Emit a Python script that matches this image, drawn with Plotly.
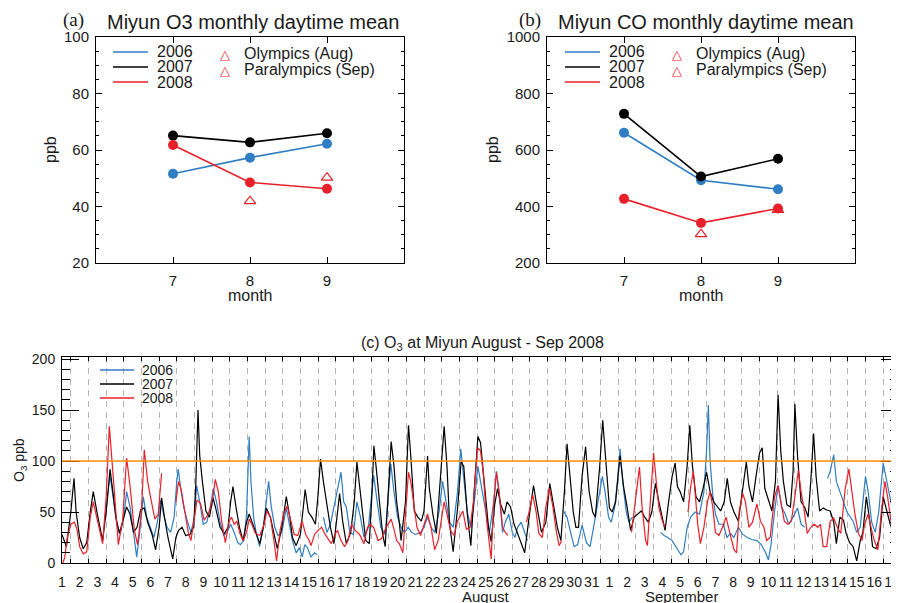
import plotly.graph_objects as go

# ---------------- data ----------------
MONTHS = [7, 8, 9]
O3_2006 = [51.6, 57.3, 62.2]
O3_2007 = [65.1, 62.7, 65.9]
O3_2008 = [61.8, 48.5, 46.3]
O3_OLYMPICS = [41.9]       # Aug 2008 (Olympics)
O3_PARALYMPICS = [50.2]    # Sep 2008 (Paralympics)

CO_2006 = [661, 493, 461]
CO_2007 = [728, 506, 569]
CO_2008 = [427, 342, 393]
CO_OLYMPICS = [302]
CO_PARALYMPICS = [388]

GAMES_AUG = [8]
GAMES_SEP = [9]

YEARS = ["2006", "2007", "2008"]
GAMES_LABELS = ["Olympics (Aug)", "Paralympics (Sep)"]

# day-of-period (0 = Aug 1 00:00) and O3 ppb, None = missing
O3_HOURLY_2006 = [
    (2.45, 45), (2.60, 70), (2.72, 86), (2.90, 64), (3.10, 38), (3.30, 29), (3.50, 45), (3.66, 70),
    (3.85, 55), (4.05, 30), (4.23, 6), (4.40, 30), (4.60, 65), (4.80, 45), (5.00, 35), (5.20, 25),
    (5.40, 40), (5.58, 62), (5.75, 48), (5.95, 35), (6.15, 30), (6.35, 45), (6.50, 80), (6.58, 92),
    (6.75, 70), (6.90, 54), (7.10, 41), (7.30, 30), (7.50, 45), (7.62, 76), (7.80, 60), (8.00, 38),
    (8.20, 40), (8.40, 55), (8.57, 73), (8.75, 60), (8.95, 40), (9.15, 27), (9.35, 30), (9.55, 38),
    (9.75, 30), (9.95, 20), (10.10, 18), (10.30, 22), (10.45, 48), (10.60, 124), (10.70, 80),
    (10.85, 45), (11.00, 29), (11.19, 16), (11.40, 35), (11.55, 60), (11.70, 80), (11.85, 55),
    (12.05, 35), (12.23, 27), (12.45, 30), (12.70, 54), (12.85, 40), (13.05, 22), (13.26, 10),
    (13.45, 15), (13.60, 6), (13.75, 18), (13.90, 15), (14.10, 6), (14.30, 10), (14.45, 8),
    (14.55, None), (14.80, 45), (15.00, 30), (15.20, 38), (15.45, 60), (15.65, 75), (15.80, 89),
    (15.95, 60), (16.10, 55), (16.30, 30), (16.50, 28), (16.70, 60), (16.90, 45), (17.10, 25),
    (17.35, 35), (17.55, 70), (17.65, 86), (17.85, 60), (18.05, 35), (18.30, 28), (18.50, 70),
    (18.62, 97), (18.80, 70), (19.00, 45), (19.20, 35), (19.40, 30), (19.60, 35), (19.80, 30),
    (20.00, 28), (20.30, 30), (20.50, 35), (20.70, 45), (20.90, 35), (21.10, 30), (21.35, 50),
    (21.55, 80), (21.75, 60), (21.95, 40), (22.15, 35), (22.40, 70), (22.58, 112), (22.75, 80),
    (22.95, 50), (23.15, 35), (23.35, 60), (23.55, 95), (23.70, 80), (23.90, 60), (24.05, 45),
    (24.20, 30), (24.45, 60), (24.60, 90), (24.75, 70), (24.95, 30), (25.10, 40), (25.30, 48),
    (25.50, 30), (25.65, 25), (25.80, 35), (26.00, 40), (26.20, 30), (26.35, 22), (26.45, None),
    (28.40, 51), (28.60, 45), (28.80, 30), (29.00, 16), (29.20, 18), (29.45, 37), (29.70, 20),
    (29.90, 16), (30.10, 35), (30.35, 60), (30.60, 85), (30.75, 70), (30.95, 45), (31.10, 40),
    (31.30, 55), (31.45, 80), (31.60, 112), (31.75, 80), (31.95, 50), (32.10, 40), (32.30, 45),
    (32.40, None), (33.90, 30), (34.10, 27), (34.30, 25), (34.55, 22), (34.80, 15), (35.05, 8),
    (35.20, 11), (35.40, 35), (35.60, 45), (35.85, 50), (36.10, 48), (36.35, 70), (36.50, 110),
    (36.60, 155), (36.70, 100), (36.85, 67), (37.00, 48), (37.20, 38), (37.45, 38), (37.65, 25),
    (37.85, 29), (38.05, 25), (38.30, 35), (38.55, 28), (38.80, 25), (39.05, 23), (39.35, 22),
    (39.60, 18), (39.85, 10), (40.00, 3), (40.15, 18), (40.35, 51), (40.55, 76), (40.75, 55),
    (40.95, 48), (41.15, 38), (41.40, 45), (41.65, 54), (41.85, 38), (42.05, 35), (42.15, None),
    (43.35, 83), (43.50, 90), (43.70, 106), (43.85, 80), (44.05, 70), (44.25, 60), (44.45, 50),
    (44.80, 41), (45.00, 30), (45.20, 35), (45.35, 60), (45.50, 85), (45.65, 70), (45.85, 40),
    (46.05, 30), (46.25, 50), (46.50, 98), (46.65, 85), (46.85, 65), (47.05, 50), (47.34, 40),
]

O3_HOURLY_2007 = [
    (0.00, 28), (0.25, 16), (0.50, 50), (0.68, 83), (0.80, 50), (1.00, 25), (1.20, 14), (1.40, 20),
    (1.60, 50), (1.77, 70), (2.00, 48), (2.15, 35), (2.30, 22), (2.50, 50), (2.72, 92), (2.90, 67),
    (3.05, 45), (3.25, 29), (3.45, 41), (3.66, 55), (3.85, 48), (4.05, 30), (4.25, 35), (4.45, 52),
    (4.65, 54), (4.85, 40), (5.10, 28), (5.30, 13), (5.50, 35), (5.64, 64), (5.80, 45), (6.00, 25),
    (6.27, 4), (6.45, 25), (6.60, 32), (6.80, 35), (7.00, 27), (7.25, 28), (7.45, 35), (7.57, 73),
    (7.70, 150), (7.80, 105), (7.95, 80), (8.15, 51), (8.35, 45), (8.55, 64), (8.70, 54),
    (8.95, 35), (9.20, 29), (9.40, 35), (9.55, 60), (9.68, 75), (9.85, 55), (10.05, 35),
    (10.25, 22), (10.45, 40), (10.60, 48), (10.80, 38), (11.00, 29), (11.20, 19), (11.40, 35),
    (11.57, 54), (11.80, 45), (12.00, 30), (12.19, 14), (12.45, 35), (12.70, 65), (12.90, 45),
    (13.05, 25), (13.26, 17), (13.50, 28), (13.77, 72), (13.95, 50), (14.15, 45), (14.35, 38),
    (14.50, 67), (14.64, 102), (14.80, 80), (15.00, 55), (15.20, 35), (15.40, 19), (15.55, 45),
    (15.72, 68), (15.90, 40), (16.10, 19), (16.35, 30), (16.55, 60), (16.70, 99), (16.85, 73),
    (17.05, 45), (17.20, 22), (17.40, 19), (17.55, 67), (17.66, 115), (17.80, 92), (18.00, 54),
    (18.15, 29), (18.30, 16), (18.50, 73), (18.64, 119), (18.80, 95), (18.95, 60), (19.10, 40),
    (19.20, 22), (19.45, 60), (19.62, 135), (19.75, 105), (19.95, 51), (20.15, 45), (20.35, 41),
    (20.50, 51), (20.70, 105), (20.80, 73), (21.00, 48), (21.20, 29), (21.40, 80), (21.64, 134),
    (21.80, 95), (21.95, 38), (22.15, 11), (22.40, 54), (22.60, 99), (22.75, 95), (22.95, 48),
    (23.15, 17), (23.35, 73), (23.55, 124), (23.70, 118), (23.85, 89), (24.00, 64), (24.15, 35),
    (24.30, 21), (24.50, 57), (24.66, 73), (24.85, 57), (25.05, 48), (25.20, 60), (25.40, 55),
    (25.60, 38), (25.80, 29), (26.00, 19), (26.20, 10), (26.45, 45), (26.70, 76), (26.90, 55),
    (27.15, 30), (27.40, 40), (27.62, 78), (27.85, 55), (28.05, 35), (28.25, 22), (28.45, 70),
    (28.60, 117), (28.75, 90), (28.95, 50), (29.10, 35), (29.25, 35), (29.45, 85), (29.65, 114),
    (29.85, 70), (30.05, 50), (30.20, 45), (30.45, 95), (30.62, 140), (30.80, 95), (31.00, 54),
    (31.15, 50), (31.35, 60), (31.60, 105), (31.80, 75), (32.00, 55), (32.20, 32), (32.40, 45),
    (32.60, 48), (32.80, 51), (33.00, 45), (33.20, 40), (33.40, 50), (33.60, 78), (33.80, 60),
    (34.00, 45), (34.15, 32), (34.35, 60), (34.55, 85), (34.72, 98), (34.85, 75), (35.00, 70),
    (35.20, 60), (35.40, 95), (35.55, 135), (35.70, 95), (35.90, 65), (36.10, 60), (36.30, 73),
    (36.50, 89), (36.70, 70), (36.90, 60), (37.10, 55), (37.30, 51), (37.50, 60), (37.67, 83),
    (37.85, 60), (38.05, 50), (38.30, 41), (38.50, 67), (38.75, 99), (38.90, 75), (39.10, 60),
    (39.30, 85), (39.50, 108), (39.65, 113), (39.80, 73), (40.00, 62), (40.20, 51), (40.40, 80),
    (40.55, 165), (40.70, 110), (40.85, 80), (41.05, 57), (41.25, 55), (41.40, 90), (41.50, 156),
    (41.65, 105), (41.85, 60), (42.05, 55), (42.25, 45), (42.40, 80), (42.56, 127), (42.70, 85),
    (42.90, 51), (43.10, 54), (43.30, 52), (43.50, 51), (43.70, 40), (43.85, 19), (44.05, 45),
    (44.25, 42), (44.40, 29), (44.60, 20), (44.80, 16), (45.00, 2), (45.20, 22), (45.35, 30),
    (45.55, 65), (45.75, 40), (45.90, 16), (46.10, 14), (46.30, 25), (46.50, 65), (46.70, 50),
    (46.90, 38), (47.10, 29), (47.34, 45),
]

O3_HOURLY_2008 = [
    (0.04, 0), (0.15, 5), (0.30, 25), (0.50, 38), (0.70, 40), (0.85, 33), (1.00, 16), (1.20, 9),
    (1.40, 11), (1.60, 45), (1.77, 60), (2.00, 43), (2.30, 19), (2.50, 64), (2.68, 134),
    (2.85, 96), (3.00, 60), (3.19, 18), (3.43, 41), (3.66, 103), (3.85, 76), (4.10, 32),
    (4.28, 18), (4.50, 51), (4.66, 111), (4.85, 80), (5.02, 64), (5.26, 43), (5.45, 48),
    (5.64, 88), (5.70, None), (6.45, 60), (6.60, 80), (6.75, 72), (6.95, 50), (7.15, 30),
    (7.30, 22), (7.50, 45), (7.65, 62), (7.85, 58), (8.05, 42), (8.30, 48), (8.55, 65), (8.68, 82),
    (8.85, 70), (9.05, 40), (9.25, 20), (9.45, 40), (9.60, 45), (9.75, 38), (9.90, 41), (10.05, 30),
    (10.25, 22), (10.45, 30), (10.60, 43), (10.75, 38), (10.95, 29), (11.20, 27), (11.45, 38),
    (11.60, 51), (11.80, 45), (12.00, 22), (12.15, 2), (12.35, 32), (12.55, 48), (12.75, 56),
    (12.95, 41), (13.15, 28), (13.35, 27), (13.60, 41), (13.80, 28), (14.00, 22), (14.10, 17),
    (14.30, 28), (14.50, 32), (14.70, 35), (14.90, 28), (15.05, 24), (15.25, 19), (15.45, 28),
    (15.60, 32), (15.80, 22), (16.00, 16), (16.20, 22), (16.40, 38), (16.60, 32), (16.85, 28),
    (17.10, 19), (17.30, 35), (17.45, 38), (17.65, 35), (17.90, 22), (18.10, 24), (18.35, 35),
    (18.64, 43), (18.80, 33), (18.95, 22), (19.10, 19), (19.30, 10), (19.45, 48), (19.62, 89),
    (19.75, 80), (19.95, 54), (20.10, 35), (20.30, 27), (20.50, 38), (20.70, 48), (20.90, 35),
    (21.10, 13), (21.30, 22), (21.45, 41), (21.64, 60), (21.80, 48), (22.00, 32), (22.20, 27),
    (22.40, 41), (22.70, 51), (22.90, 33), (23.10, 35), (23.30, 60), (23.53, 113), (23.70, 110),
    (23.85, 89), (24.05, 41), (24.30, 4), (24.45, 60), (24.60, 89), (24.75, 70), (24.95, 35),
    (25.10, 30), (25.25, 27), (25.35, None), (26.30, 40), (26.45, 50), (26.65, 67), (26.85, 50),
    (27.00, 29), (27.20, 25), (27.40, 55), (27.60, 73), (27.80, 55), (28.00, 30), (28.15, 17),
    (28.30, 22), (28.40, None), (32.25, 30), (32.45, 60), (32.70, 94), (32.85, 54), (33.05, 22),
    (33.15, 17), (33.30, 60), (33.50, 108), (33.65, 80), (33.80, 54), (34.00, 41), (34.15, 35),
    (34.25, None), (35.45, 50), (35.60, 75), (35.75, 90), (35.90, 60), (36.00, 38), (36.15, 19),
    (36.35, 35), (36.55, 60), (36.70, 70), (36.85, 55), (37.00, 30), (37.20, 27), (37.40, 35),
    (37.60, 45), (37.80, 30), (37.95, 19), (38.05, 13), (38.20, 10), (38.35, 51), (38.55, 68),
    (38.70, 60), (38.90, 35), (39.10, 40), (39.35, 58), (39.55, 41), (39.75, 35), (39.90, 22),
    (40.10, 25), (40.35, 65), (40.55, 76), (40.70, 60), (40.90, 41), (41.10, 38), (41.30, 41),
    (41.50, 65), (41.70, 91), (41.85, 70), (42.00, 55), (42.20, 29), (42.40, 35), (42.60, 38),
    (42.80, 35), (42.95, 38), (43.10, 16), (43.30, 16), (43.50, 41), (43.70, 44), (43.90, 35),
    (44.10, 29), (44.35, 73), (44.56, 92), (44.70, 75), (44.90, 48), (45.10, 29), (45.30, 22),
    (45.45, 38), (45.65, 48), (45.85, 32), (46.00, 22), (46.20, 13), (46.40, 51), (46.60, 80),
    (46.75, 65), (46.95, 40), (47.10, 19), (47.34, 64),
]

O3_STANDARD = 100  # ppb, horizontal reference line
DAY_LABELS = [str(d) for d in range(1, 32)] + [str(d) for d in range(1, 18)]
MONTH_LABELS = ["August", "September"]
MONTH_LABEL_DAYS = [24.0, 35.1]

# ---------------- style ----------------
# the page body has an 8px margin, so the figure is laid out in page pixels shifted by 8
OFF = 8
W, H = 899 - OFF, 603 - OFF
BLUE = "#2f7dc3"
BLACK = "#000000"
RED = "#e8202a"
ORANGE = "#ff8c00"
FONT = "Liberation Sans, Arial, sans-serif"
SERIF = "Liberation Serif, Times New Roman, serif"
TXT = "#1a1a1a"
COLORS = [BLUE, BLACK, RED]
X3_MAX = 47.34


def px(x):
    return (x - OFF) / W


def py(y):
    return 1 - (y - OFF) / H


fig = go.Figure()

# panel a and b
for xa, ya, series, aug, sep in [
    ("x", "y", [O3_2006, O3_2007, O3_2008], O3_OLYMPICS, O3_PARALYMPICS),
    ("x2", "y2", [CO_2006, CO_2007, CO_2008], CO_OLYMPICS, CO_PARALYMPICS),
]:
    for vals, col in zip(series, COLORS):
        fig.add_trace(go.Scatter(
            x=MONTHS, y=vals, mode="lines+markers", xaxis=xa, yaxis=ya,
            line=dict(color=col, width=1.6),
            marker=dict(color=col, size=10, symbol="circle"),
            showlegend=False, hoverinfo="skip"))
    for gx, gy in [(GAMES_AUG, aug), (GAMES_SEP, sep)]:
        fig.add_trace(go.Scatter(
            x=gx, y=gy, mode="markers", xaxis=xa, yaxis=ya,
            marker=dict(symbol="triangle-up-open", size=10, color=RED, line=dict(width=1.2)),
            showlegend=False, hoverinfo="skip"))

# panel c
for series, col in zip([O3_HOURLY_2006, O3_HOURLY_2007, O3_HOURLY_2008], COLORS):
    fig.add_trace(go.Scatter(
        x=[p[0] for p in series], y=[p[1] for p in series], mode="lines",
        xaxis="x3", yaxis="y3", line=dict(color=col, width=1.2),
        connectgaps=False, showlegend=False, hoverinfo="skip"))

n_days = len(DAY_LABELS)
tickfont = dict(family=FONT, size=15, color=TXT)


def frame(**kw):
    d = dict(showline=True, linecolor="black", linewidth=1, mirror="ticks",
             ticks="inside", tickcolor="black", tickwidth=1, showgrid=False,
             zeroline=False, tickfont=tickfont, automargin=False, tickangle=0)
    d.update(kw)
    return d


ya_dom = [py(263), py(37)]
fig.update_layout(
    width=W, height=H, margin=dict(l=0, r=0, t=0, b=0, autoexpand=False),
    paper_bgcolor="white", plot_bgcolor="white", showlegend=False,
    xaxis=frame(domain=[px(96), px(404)], anchor="y", range=[6, 10],
                tickvals=MONTHS, ticklen=6, ticklabelstandoff=4),
    yaxis=frame(domain=ya_dom, anchor="x", range=[20, 100], tick0=20, dtick=20,
                ticklen=6, ticklabelstandoff=3,
                minor=dict(ticks="inside", ticklen=3, dtick=5, tickcolor="black")),
    xaxis2=frame(domain=[px(547), px(855)], anchor="y2", range=[6, 10],
                 tickvals=MONTHS, ticklen=6, ticklabelstandoff=4),
    yaxis2=frame(domain=ya_dom, anchor="x2", range=[200, 1000], tick0=200, dtick=200,
                 ticklen=6, ticklabelstandoff=3,
                 minor=dict(ticks="inside", ticklen=3, dtick=50, tickcolor="black")),
    xaxis3=frame(domain=[px(62), px(898)], anchor="y3", range=[0, X3_MAX],
                 tickmode="array", tickvals=list(range(n_days)), ticktext=DAY_LABELS,
                 ticklen=0, ticklabelstandoff=6, ticklabeloverflow="allow",
                 tickfont=dict(family=FONT, size=14, color=TXT),
                 minor=dict(tickmode="array", tickvals=[d + 0.5 for d in range(n_days)],
                            ticks="inside", ticklen=4, tickcolor="black",
                            showgrid=True, gridcolor="#b4b4b4", griddash="6px,5px", gridwidth=1)),
    yaxis3=frame(domain=[py(563), py(357)], anchor="x3", range=[0, 202],
                 tickmode="array", tickvals=[0, 50, 100, 150, 200], ticklen=17,
                 ticklabelstandoff=3, tickfont=dict(family=FONT, size=14, color=TXT),
                 minor=dict(ticks="inside", ticklen=8, dtick=10, tickcolor="black")),
)

# standard line
fig.add_shape(type="line", xref="x3 domain", yref="y3", x0=0, x1=1,
              y0=O3_STANDARD, y1=O3_STANDARD, line=dict(color=ORANGE, width=1.5), layer="above")

ann = []


def text(x, y, s, size=16, family=FONT, color=TXT, xanchor="center", angle=0):
    ann.append(dict(x=px(x), y=py(y), xref="paper", yref="paper", text=s, showarrow=False,
                    xanchor=xanchor, yanchor="middle", textangle=angle,
                    font=dict(family=family, size=size, color=color)))


# titles
text(73, 20, "(a)", size=19, family=SERIF)
text(105, 22, "Miyun O3 monthly daytime mean", size=20, xanchor="left")
text(530, 20, "(b)", size=19, family=SERIF)
text(556, 22, "Miyun CO monthly daytime mean", size=20, xanchor="left")
text(482, 343, "(c) O<sub>3</sub> at Miyun August - Sep 2008", size=16)

# axis titles
text(50, 150, "ppb", size=16, angle=-90)
text(492, 150, "ppb", size=16, angle=-90)
text(250, 295, "month", size=16)
text(701, 295, "month", size=16)
text(20, 460, "O<sub>3</sub> ppb", size=14, angle=-90)
for lab, d in zip(MONTH_LABELS, MONTH_LABEL_DAYS):
    text(62 + d * (898 - 62) / X3_MAX, 596, lab, size=15)

# legends (a) and (b)
for x0 in (113, 565):
    for i, (yr, col) in enumerate(zip(YEARS, COLORS)):
        yy = 52 + 15 * i
        fig.add_shape(type="line", xref="paper", yref="paper", x0=px(x0), x1=px(x0 + 35),
                      y0=py(yy), y1=py(yy), line=dict(color=col, width=1.4))
        text(x0 + 42, yy, yr, size=16, xanchor="left")
    for j, lab in enumerate(GAMES_LABELS):
        yy = 55 + 16 * j
        text(x0 + 112, yy, "\u25b3", size=13, color=RED)
        text(x0 + 129, yy - 1, lab, size=16, xanchor="left")

# legend (c)
for i, (yr, col) in enumerate(zip(YEARS, COLORS)):
    yy = 370 + 14 * i
    fig.add_shape(type="line", xref="paper", yref="paper", x0=px(100), x1=px(134),
                  y0=py(yy), y1=py(yy), line=dict(color=col, width=1.4))
    text(140, yy, yr, size=14, xanchor="left")

fig.update_layout(annotations=ann)
fig.write_html("out.html")
